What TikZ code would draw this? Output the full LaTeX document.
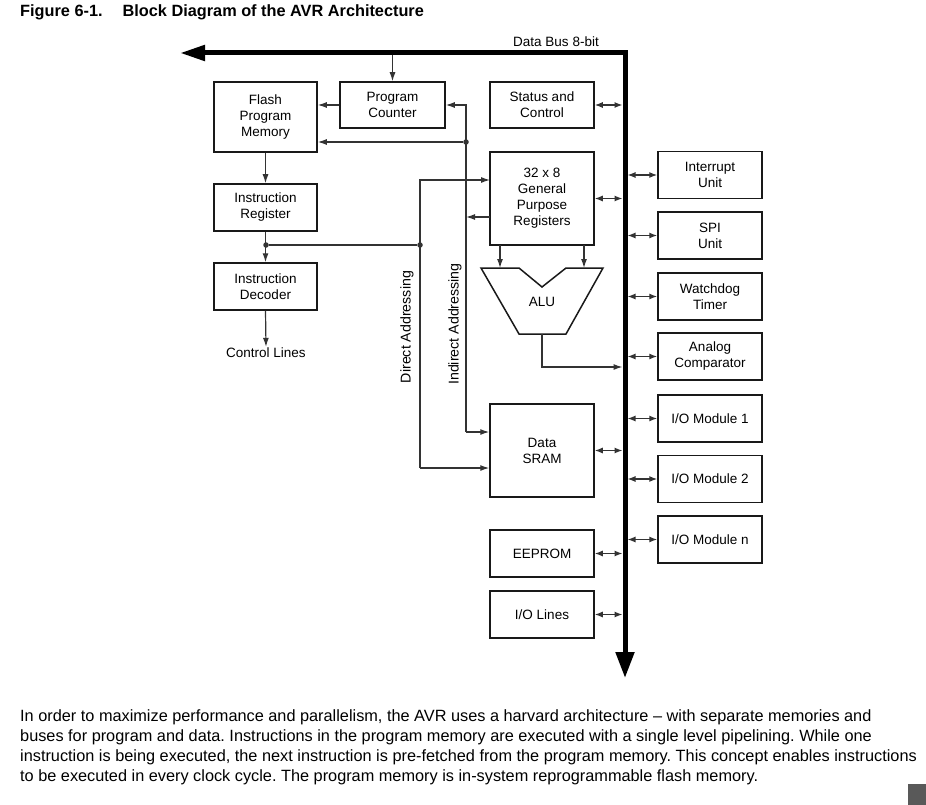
\documentclass[tikz,border=0pt]{standalone}
\usepackage{fontspec}
\setmainfont{Liberation Sans}
\usetikzlibrary{arrows.meta,calc}
\definecolor{lin}{HTML}{333333}
\frenchspacing
\begin{document}
\begin{tikzpicture}[x=1pt,y=-1pt,
 blk/.style={draw=black!90, line width=1.5pt, align=center, font=\fontsize{13.5}{16}\selectfont, inner sep=0pt},
 conn/.style={draw=lin, line width=1.2pt},
 arr/.style={conn, -{Latex[length=9pt,width=6pt]}},
 darr/.style={conn, {Latex[length=8pt,width=6pt]}-{Latex[length=8pt,width=6pt]}},
 dot/.style={circle, fill=lin, inner sep=0pt, minimum size=5.5pt},
 lbl/.style={font=\fontsize{13.5}{16}\selectfont, inner sep=1pt},
 bus/.style={line width=5pt, line join=miter, draw=black},
 para/.style={anchor=base west, font=\fontsize{16.3}{18}\selectfont, inner sep=0pt},
]
\useasboundingbox (0,0) rectangle (926,805);

% title
\node[anchor=west, inner sep=0pt, font=\bfseries\fontsize{16.3}{18}\selectfont] (title) at (20,12) {Figure 6-1.\hspace{20pt}Block Diagram of the AVR Architecture};

% bus coordinates
\coordinate (bl) at (180,53);
\coordinate (bc) at (625,53);
\coordinate (bb) at (625,678);
\coordinate (bw) at (622.5,0);
\coordinate (be) at (627.5,0);
\node[lbl] (dbl) at (556,42) {Data Bus 8-bit};

% boxes
\node[blk, minimum width=103pt, minimum height=70pt] (flash) at (265.5,117) {Flash\\Program\\Memory};
\node[blk, minimum width=105pt, minimum height=46pt] (pc) at (392.5,105) {Program\\Counter};
\node[blk, minimum width=104pt, minimum height=46pt] (stat) at (542,105) {Status and\\Control};
\node[blk, minimum width=104pt, minimum height=93pt] (gpr) at (542,198.5) {32 x 8\\General\\Purpose\\Registers};
\node[blk, minimum width=103pt, minimum height=47pt] (ir) at (265.5,207.5) {Instruction\\Register};
\node[blk, minimum width=103pt, minimum height=47pt] (dec) at (265.5,286.5) {Instruction\\Decoder};
\node[lbl] (ctl) at (266,353) {Control Lines};
\node[blk, minimum width=104pt, minimum height=93pt] (sram) at (542,450.5) {Data\\SRAM};
\node[blk, minimum width=104pt, minimum height=47pt] (eeprom) at (542,553.5) {EEPROM};
\node[blk, minimum width=104pt, minimum height=47pt] (iol) at (542,614.5) {I/O Lines};

\node[blk, minimum width=104pt, minimum height=47pt] (int) at (710,175) {Interrupt\\Unit};
\node[blk, minimum width=104pt, minimum height=47pt] (spi) at (710,235.5) {SPI\\Unit};
\node[blk, minimum width=104pt, minimum height=47pt] (wdt) at (710,296.5) {Watchdog\\Timer};
\node[blk, minimum width=104pt, minimum height=47pt] (ac) at (710,356.5) {Analog\\Comparator};
\node[blk, minimum width=104pt, minimum height=47pt] (io1) at (710,418.5) {I/O Module 1};
\node[blk, minimum width=104pt, minimum height=47pt] (io2) at (710,479) {I/O Module 2};
\node[blk, minimum width=104pt, minimum height=47pt] (ion) at (710,539.5) {I/O Module n};

% ALU
\draw[line width=1.5pt, draw=black!90, line join=miter] (481,268) -- (519,268) -- (542,287) -- (566,268) -- (603,268) -- (566,334) -- (519,334) -- cycle;
\node[lbl] (alu) at (542,302) {ALU};
\coordinate (aluout) at (542,334);

% rotated labels
\node[lbl, rotate=90, font=\fontsize{14.2}{16}\selectfont] (dal) at (407,327) {Direct Addressing};
\node[lbl, rotate=90, font=\fontsize{14.2}{16}\selectfont] (ial) at (455,324) {Indirect Addressing};

% connectors
\draw[arr] (pc.north |- bc) -- (pc.north);
\draw[arr] (pc.west) -- (pc.west -| flash.east);
\coordinate (ind1) at (466,432);
\draw[arr] (ind1) |- (pc.east);
\draw[arr] (ind1) -- (ind1 -| sram.west);
\node[dot] (d1) at (466,142) {};
\draw[arr] (d1) -- (d1 -| flash.east);
\coordinate (g2i) at (490,217);
\draw[arr] (g2i) -- (g2i -| ind1);

\coordinate (dir1) at (420,468);
\coordinate (dir2) at (490,180);
\node[dot] (d2) at (420,245) {};
\node[dot] (d3) at (266,245) {};
\draw[arr] (dir1) |- (dir2);
\draw[arr] (dir1) -- (dir1 -| sram.west);
\draw[conn] (d3) -- (d2);

\draw[arr] (flash.south) -- (ir.north);
\draw[arr] (ir.south) -- (dec.north);
\draw[arr] (dec.south) -- (ctl.north);

\coordinate (ga) at (500,245);
\coordinate (gb) at (584,245);
\draw[arr] (ga) -- ++(0,23);
\draw[arr] (gb) -- ++(0,23);
\draw[arr] (aluout) |- (bw |- 0,367);

% bus connections
\draw[darr] (stat.east) -- (stat.east -| bw);
\draw[darr] (gpr.east) -- (gpr.east -| bw);
\draw[darr] (sram.east) -- (sram.east -| bw);
\draw[darr] (eeprom.east) -- (eeprom.east -| bw);
\draw[darr] (iol.east) -- (iol.east -| bw);
\foreach \b in {int,spi,wdt,ac,io1,io2,ion} {
  \draw[darr] (\b.west) -- (\b.west -| be);
}

% data bus
\draw[bus, {Triangle[length=25pt,width=15pt]}-{Triangle[length=26pt,width=18pt]}] (bl) -- (bc) -- (bb);

% paragraph
\node[para] (p1) at (20,721) {In order to maximize performance and parallelism, the AVR uses a harvard architecture – with separate memories and};
\node[para] (p2) at (20,741) {buses for program and data. Instructions in the program memory are executed with a single level pipelining. While one};
\node[para] (p3) at (20,761) {instruction is being executed, the next instruction is pre-fetched from the program memory. This concept enables instructions};
\node[para] (p4) at (20,781) {to be executed in every clock cycle. The program memory is in-system reprogrammable flash memory.};

% scrollbar fragment
\fill[black!65] (908,784) rectangle (926,805);
\end{tikzpicture}
\end{document}
